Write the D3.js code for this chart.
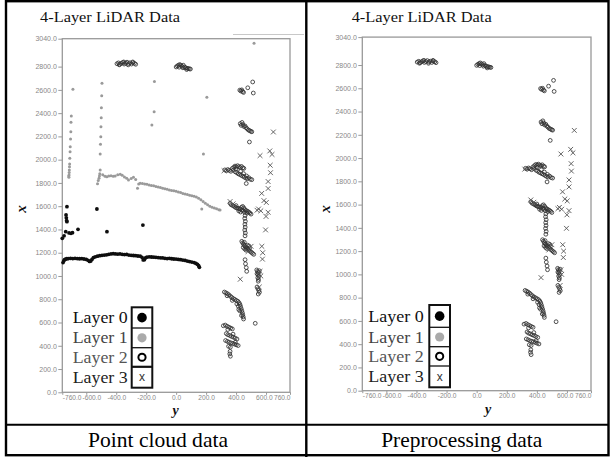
<!DOCTYPE html>
<html>
<head>
<meta charset="utf-8">
<script src="https://d3js.org/d3.v7.min.js"></script>
<style>
  html, body { margin: 0; padding: 0; background: #fff; }
  svg { display: block; }
</style>
</head>
<body>
<script>
// ---------------- DATA ([lateral y, forward x]) ----------------
const xTickValues = [-760, -600, -400, -200, 0, 200, 400, 600, 760];
const yTickValues = [0, 200, 400, 600, 800, 1000, 1200, 1400, 1600, 1800, 2000, 2200, 2400, 2600, 2800, 3040];
const layerNames = ["Layer 0", "Layer 1", "Layer 2", "Layer 3"];
const chartTitle = "4-Layer LiDAR Data";
const captions = ["Point cloud data", "Preprocessing data"];
const axisLabelH = "y";
const axisLabelV = "x";

// Layer 0 (ground arc + scattered), raw data only
const layer0 = [
  [-755,1115],[-750,1130],[-745,1140],[-738,1145],[-730,1148],[-720,1150],[-705,1152],[-690,1150],[-675,1152],[-660,1150],
  [-645,1148],[-630,1150],[-615,1146],[-600,1142],[-588,1135],[-578,1125],[-570,1128],[-562,1142],[-552,1158],[-540,1165],
  [-525,1170],[-510,1175],[-495,1178],[-480,1180],[-465,1182],[-450,1186],[-435,1190],[-420,1192],[-405,1190],[-390,1188],
  [-375,1190],[-360,1186],[-345,1184],[-330,1185],[-315,1180],[-300,1178],[-285,1176],[-270,1175],[-255,1172],[-240,1170],
  [-228,1160],[-220,1138],[-212,1140],[-205,1155],[-195,1162],[-180,1165],[-165,1163],[-150,1162],[-135,1160],[-120,1158],
  [-105,1156],[-90,1155],[-75,1152],[-60,1150],[-45,1152],[-30,1148],[-15,1146],[0,1145],[15,1142],[30,1140],
  [45,1137],[60,1134],[75,1128],[90,1124],[105,1120],[120,1115],[132,1108],[142,1100],[150,1088],[155,1075],
  [-729,1596],[-735,1525],[-733,1500],[-731,1475],[-729,1467],[-737,1381],[-760,1324],[-748,1345],[-702,1367],[-692,1372],
  [-715,1370],[-655,1401],[-529,1576],[-462,1381],[-222,1438]
];

// Layer 1 (grey), raw data only
const layer1 = [
  [-689,2605],[-700,2376],[-702,2322],[-703,2241],[-705,2178],[-707,2112],[-708,2069],[-710,2012],[-711,1963],[-712,1940],
  [-713,1911],[-714,1890],[-715,1868],[-717,1860],[-716,1849],
  [-495,2657],[-497,2550],[-499,2447],[-500,2361],[-502,2284],[-503,2198],[-505,2132],[-507,2049],[-507,1911],[-510,1880],
  [-512,1860],[-515,1840],[-520,1820],[-525,1794],
  [-490,1870],[-475,1858],[-463,1854],[-450,1860],[-435,1862],[-420,1858],[-407,1860],[-390,1870],[-373,1874],[-360,1866],
  [-345,1850],[-330,1840],[-318,1825],[-300,1838],[-285,1849],[-270,1830],[-258,1754],[-250,1790],[-240,1797],[-225,1795],
  [-210,1790],[-195,1788],[-180,1782],[-165,1778],[-150,1775],[-135,1770],[-120,1766],[-105,1760],[-90,1755],[-75,1750],
  [-60,1745],[-45,1740],[-30,1735],[-15,1732],[0,1728],[15,1722],[30,1717],[45,1710],[60,1705],[75,1700],
  [90,1694],[105,1690],[120,1685],[135,1678],[150,1668],[165,1655],[180,1640],[195,1625],[210,1612],[225,1600],
  [240,1592],[255,1585],[270,1578],[285,1570],[293,1567],
  [-145,2671],[-147,2413],[-162,2298],[205,2536],[182,2049],[171,1576],[520,3001]
];

// Layer 2 (open circles), kept after preprocessing
const layer2 = [
  [-395,2825],[-385,2832],[-376,2820],[-366,2828],[-357,2836],[-347,2822],[-338,2830],[-328,2838],[-318,2826],[-308,2833],
  [-298,2822],[-288,2834],[-278,2828],[-270,2820],[-380,2815],[-350,2840],[-320,2815],[-290,2840],
  [0,2797],[8,2806],[16,2812],[24,2818],[32,2810],[40,2802],[48,2812],[56,2796],[64,2790],[72,2786],[80,2784],[88,2781],[95,2779],
  [20,2795],[45,2790],[70,2775],
  [425,2598],[432,2590],[438,2600],[444,2585],[450,2578],[478,2618],[511,2668],[515,2573],
  [428,2310],[434,2295],[440,2320],[446,2302],[452,2285],[460,2290],[466,2275],[474,2266],[482,2255],[490,2250],[498,2244],[505,2240],[489,2152],
  [325,1912],[335,1905],[345,1915],[355,1908],[365,1900],[375,1925],[385,1935],[393,1945],[402,1938],[410,1948],
  [420,1940],[428,1932],[436,1942],[445,1930],[452,1925],[395,1895],[405,1888],[415,1878],[425,1872],[435,1865],
  [445,1858],[455,1850],[465,1842],[475,1836],[485,1845],[495,1832],[505,1828],[468,1795],
  [380,1910],[400,1920],[430,1900],[450,1880],[470,1860],
  [360,1625],[368,1612],[378,1605],[388,1598],[396,1590],[404,1585],[412,1582],[420,1578],[428,1575],[436,1590],
  [444,1598],[452,1585],[460,1570],[468,1562],[476,1556],[484,1550],[492,1542],[500,1532],[448,1560],[456,1548],[440,1565],
  [400,1605],[418,1560],[430,1550],[472,1540],
  [460,1520],[458,1495],[462,1470],[459,1445],[461,1420],[458,1395],[462,1370],[460,1345],
  [438,1298],[444,1285],[450,1272],[456,1262],[462,1252],[470,1242],[478,1232],[486,1222],[494,1212],[502,1204],
  [510,1195],[518,1186],[448,1245],[458,1232],[466,1222],[476,1265],[486,1258],[455,1290],[490,1240],
  [460,1140],[463,1105],[468,1072],[471,1040],
  [538,1052],[544,1040],[550,1028],[546,1012],[552,998],[545,985],[550,970],[548,955],[540,905],[546,890],[552,875],[556,860],[548,845],
  [540,1020],[555,1045],
  [322,862],[332,855],[342,848],[352,838],[362,826],[372,815],[382,805],[392,798],[402,790],[412,782],
  [420,770],[426,755],[430,738],[434,720],[438,702],[442,684],[445,666],[448,648],[450,630],[425,700],[418,712],[436,660],
  [340,830],[375,790],[405,760],[415,740],
  [528,593],
  [315,572],[328,578],[340,568],[352,560],[364,552],[375,545],[335,505],[345,495],[358,488],[370,480],
  [382,474],[394,466],[406,458],[330,445],[342,438],[354,430],[366,425],[378,420],[390,414],[402,408],
  [414,402],[350,395],[362,388],[360,352],[358,330],[362,310],[345,540],[380,500],[395,430]
];

// Layer 3 (x marks), kept after preprocessing
const layer3 = [
  [649,2238],[560,2035],[625,2075],[640,2045],[628,1952],[630,1888],[614,1812],[614,1752],[571,1710],[586,1648],
  [602,1632],[550,1576],[614,1548],[600,1512],[597,1396],[572,1255],[578,1200],[576,1145],[428,972],[320,1905],
  [360,1640],[380,1620],[540,1565],[565,1560],[480,1210],[500,1255],[560,1040],[565,1000],[555,905]
];

// ---------------- DRAWING ----------------
const W = 610, H = 457;
const svg = d3.select("body").append("svg").attr("width", W).attr("height", H);
const serif = "'Liberation Serif','Times New Roman',serif";
const sans = "'Liberation Sans',Arial,sans-serif";

const defs = svg.append("defs");
defs.append("filter").attr("id", "soft").attr("x", "-5%").attr("y", "-5%").attr("width", "110%").attr("height", "110%")
  .append("feGaussianBlur").attr("stdDeviation", 0.35);

const panels = [
  { layers: [layer0, layer1, layer2, layer3], x0: 62.3, x1: 290, yTop: 38.7, yBot: 392.3,
    titleX: 40, titleY: 22, vLabX: 21.5, vLabY: 209, hLabX: 175.5, hLabY: 415,
    legTextX: 72.7, legTextLen: 55, boxX: 131.7, boxW: 20.6, rows: [307.3, 328, 347.7, 366.8, 387.7],
    capX: 158, capLen: 140, extraLine: true },
  { layers: [null, null, layer2, layer3], x0: 362.3, x1: 591, yTop: 37.1, yBot: 390.7,
    titleX: 351.7, titleY: 22, vLabX: 325, vLabY: 209, hLabX: 488, hLabY: 414,
    legTextX: 368.3, legTextLen: 55.5, boxX: 429.3, boxW: 20.7, rows: [305, 327.3, 346.7, 366, 387.3],
    capX: 461.7, capLen: 161, extraLine: false }
];

function drawLayerMarks(g, data, li, xs, ys) {
  if (!data) return;
  if (li === 0) {
    g.selectAll(null).data(data).enter().append("circle")
      .attr("cx", d => xs(d[0])).attr("cy", d => ys(d[1])).attr("r", 1.9)
      .attr("fill", "#111");
  } else if (li === 1) {
    g.selectAll(null).data(data).enter().append("circle")
      .attr("cx", d => xs(d[0])).attr("cy", d => ys(d[1])).attr("r", 1.5)
      .attr("fill", "#9a9a9a");
  } else if (li === 2) {
    g.selectAll(null).data(data).enter().append("circle")
      .attr("cx", d => xs(d[0])).attr("cy", d => ys(d[1])).attr("r", 1.9)
      .attr("fill", "none").attr("stroke", "#333").attr("stroke-width", 1).attr("stroke-opacity", 0.85);
  } else {
    const s = 2.4;
    g.selectAll(null).data(data).enter().append("path")
      .attr("d", d => {
        const cx = xs(d[0]), cy = ys(d[1]);
        return `M${cx - s},${cy - s}L${cx + s},${cy + s}M${cx - s},${cy + s}L${cx + s},${cy - s}`;
      })
      .attr("stroke", "#555").attr("stroke-width", 0.9).attr("fill", "none");
  }
}

panels.forEach((p, pi) => {
  const g = svg.append("g");
  const xs = d3.scaleLinear().domain([-760, 760]).range([p.x0, p.x1]);
  const ys = d3.scaleLinear().domain([0, 3040]).range([p.yBot, p.yTop]);

  // title
  g.append("text").attr("x", p.titleX).attr("y", p.titleY)
    .attr("font-family", serif).attr("font-size", 14.5).attr("fill", "#111")
    .attr("textLength", 140).attr("lengthAdjust", "spacingAndGlyphs")
    .text(chartTitle);

  if (p.extraLine) {
    g.append("line").attr("x1", 233).attr("x2", 304).attr("y1", 34.5).attr("y2", 34.5)
      .attr("stroke", "#c8c8c8").attr("stroke-width", 1);
  }

  // plot frame
  g.append("rect").attr("x", p.x0).attr("y", p.yTop)
    .attr("width", p.x1 - p.x0).attr("height", p.yBot - p.yTop)
    .attr("fill", "none").attr("stroke", "#999").attr("stroke-width", 1.3);

  // y axis (vertical, "x")
  const ay = g.append("g").attr("transform", `translate(${p.x0},0)`)
    .call(d3.axisLeft(ys).tickValues(yTickValues).tickSize(4).tickPadding(1.5).tickFormat(d => d.toFixed(1)));
  ay.select(".domain").remove();
  ay.selectAll("line").attr("stroke", "#999");
  ay.selectAll("text").attr("font-family", sans).attr("font-size", 7).attr("fill", "#888");

  // x axis (horizontal, "y")
  const ax = g.append("g").attr("transform", `translate(0,${p.yBot})`)
    .call(d3.axisBottom(xs).tickValues(xTickValues).tickSize(2.5).tickPadding(0.5).tickFormat(d => d.toFixed(1)));
  ax.select(".domain").remove();
  ax.selectAll("line").attr("stroke", "#999");
  ax.selectAll("text").attr("font-family", sans).attr("font-size", 6.6).attr("fill", "#888")
    .attr("text-anchor", (d, i, n) => (i === 0 || i === 1) ? "start" : (i === n.length - 1 ? "end" : "middle"))
    .attr("dx", (d, i, n) => i === 1 ? -4.2 : (i === n.length - 2 ? -2.2 : 0));

  // axis labels
  g.append("text").attr("transform", `translate(${p.vLabX},${p.vLabY}) rotate(-90)`)
    .attr("text-anchor", "middle").attr("dy", "0.3em")
    .attr("font-family", serif).attr("font-style", "italic").attr("font-weight", "bold")
    .attr("font-size", 15).attr("fill", "#111").text(axisLabelV);
  g.append("text").attr("x", p.hLabX).attr("y", p.hLabY).attr("text-anchor", "middle")
    .attr("font-family", serif).attr("font-style", "italic").attr("font-weight", "bold")
    .attr("font-size", 14).attr("fill", "#111").text(axisLabelH);

  // marks (draw grey first, then others)
  const mg = g.append("g").attr("filter", "url(#soft)");
  [1, 0, 2, 3].forEach(li => drawLayerMarks(mg, p.layers[li], li, xs, ys));

  // legend
  const lg = g.append("g");
  const rows = p.rows;
  lg.append("rect").attr("x", p.boxX).attr("y", rows[0]).attr("width", p.boxW).attr("height", rows[4] - rows[0])
    .attr("fill", "#fff").attr("stroke", "#111").attr("stroke-width", 2);
  [1, 2, 3].forEach(k => {
    lg.append("line").attr("x1", p.boxX).attr("x2", p.boxX + p.boxW).attr("y1", rows[k]).attr("y2", rows[k])
      .attr("stroke", "#111").attr("stroke-width", k === 3 && pi === 0 ? 2.2 : 1.3);
  });
  const textColors = ["#111", "#444", "#555", "#222"];
  layerNames.forEach((name, k) => {
    const cy = (rows[k] + rows[k + 1]) / 2;
    const cx = p.boxX + p.boxW / 2;
    lg.append("text").attr("x", p.legTextX).attr("y", cy + 5.6)
      .attr("font-family", serif).attr("font-size", 16).attr("fill", textColors[k])
      .attr("textLength", p.legTextLen).attr("lengthAdjust", "spacingAndGlyphs")
      .text(name);
    if (k === 0) lg.append("circle").attr("cx", cx).attr("cy", cy).attr("r", 4.8).attr("fill", "#000");
    if (k === 1) lg.append("circle").attr("cx", cx).attr("cy", cy).attr("r", 4.6).attr("fill", "#aaa");
    if (k === 2) lg.append("circle").attr("cx", cx).attr("cy", cy).attr("r", 3.6).attr("fill", "none")
      .attr("stroke", "#000").attr("stroke-width", 2);
    if (k === 3) lg.append("text").attr("x", cx).attr("y", cy + 4).attr("text-anchor", "middle")
      .attr("font-family", sans).attr("font-size", 12).attr("fill", "#333").text("x");
  });

  // caption
  svg.append("text").attr("x", p.capX).attr("y", 447).attr("text-anchor", "middle")
    .attr("font-family", serif).attr("font-size", 22).attr("fill", "#000")
    .attr("textLength", p.capLen).attr("lengthAdjust", "spacingAndGlyphs")
    .text(captions[pi]);
});

// table lines
svg.append("rect").attr("x", 6).attr("y", 1.2).attr("width", 602.5).attr("height", 454)
  .attr("fill", "none").attr("stroke", "#000").attr("stroke-width", 2.4);
svg.append("line").attr("x1", 306.3).attr("x2", 306.3).attr("y1", 0).attr("y2", 457)
  .attr("stroke", "#000").attr("stroke-width", 2.4);
svg.append("line").attr("x1", 6).attr("x2", 609).attr("y1", 424.8).attr("y2", 424.8)
  .attr("stroke", "#000").attr("stroke-width", 2);
</script>
</body>
</html>
